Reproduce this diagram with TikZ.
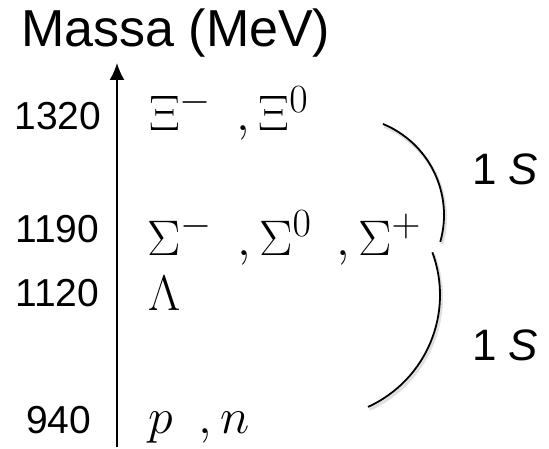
\RequirePackage{fix-cm}
\documentclass[tikz,border=0pt]{standalone}
\usepackage{fontspec}
\setmainfont{Liberation Sans}
\DeclareMathSizes{50}{50}{40}{32}
\usetikzlibrary{arrows.meta}
\begin{document}
\begin{tikzpicture}[x=1pt,y=-1pt,
  lbl/.style={inner sep=0pt, anchor=base east, font=\fontsize{39}{47}\selectfont},
  part/.style={inner sep=0pt, anchor=base west, font=\fontsize{50}{60}\selectfont},
  spin/.style={inner sep=0pt, anchor=base west, font=\fontsize{44}{53}\selectfont},
  brace/.style={line width=1.8pt},
  braceshadow/.style={line width=3pt, black!12}]
\useasboundingbox (0,0) rectangle (549,449);
% title
\node[inner sep=0pt, anchor=base west, font=\fontsize{52}{62}\selectfont] (title) at (21,47) {Massa (MeV)};
% axis
\coordinate (bot) at (117,447);
\coordinate (top) at (117,63);
\draw[line width=1.8pt, -{Latex[length=17pt,width=15pt]}] (bot) -- (top);
% mass labels
\node[lbl] (m1320) at (101.5,130) {1320};
\node[lbl] (m1190) at (99.5,243) {1190};
\node[lbl] (m1120) at (99.5,306) {1120};
\node[lbl] (m940)  at (91.5,433) {940};
% particles
\node[part] (xi)     at (149,131) {$\Xi^{-}\hspace{25pt},\Xi^{0}$};
\node[part] (sigma)  at (147,255) {$\Sigma^{-}\hspace{25pt},\Sigma^{0}\hspace{25pt},\Sigma^{+}$};
\node[part] (lambda) at (148,310) {$\Lambda$};
\node[part] (pn)     at (148,433) {$p\hspace{26pt},n$};
% braces (shadow)
\draw[braceshadow] (347.1,217.5) ++(-67.7:98.4) arc[start angle=-67.7, end angle=15.8, radius=98.4];
\draw[braceshadow] (318.5,297.5) ++(-20.3:123) arc[start angle=-20.3, end angle=65.5, radius=123];
% braces
\draw[brace] (345.6,215) ++(-67.7:98.4) arc[start angle=-67.7, end angle=15.8, radius=98.4];
\draw[brace] (317,295) ++(-20.3:123) arc[start angle=-20.3, end angle=65.5, radius=123];
% spin labels
\node[spin] (s1) at (472,185) {1 \textit{S}};
\node[spin] (s2) at (472,360) {1 \textit{S}};
\end{tikzpicture}
\end{document}
